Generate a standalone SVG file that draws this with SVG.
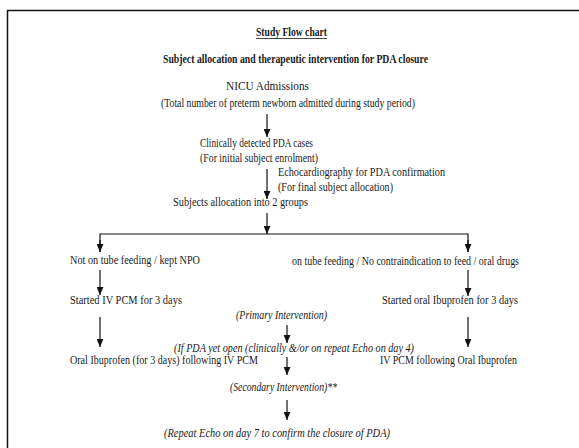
<svg xmlns="http://www.w3.org/2000/svg" width="579" height="448" viewBox="0 0 579 448">
<style>
text{font-family:"Liberation Serif","Times New Roman",serif;font-size:11.5px;fill:#1a1a1a}
.b{font-weight:bold}
.i{font-style:italic}
.ln{stroke:#111;stroke-width:1.2;fill:none}
</style>
<defs>
<marker id="ah" markerUnits="userSpaceOnUse" markerWidth="8" markerHeight="7" refX="7" refY="3" orient="auto" viewBox="0 0 7 6">
<path d="M0,0 L7,3 L0,6 Z" fill="#111"/>
</marker>
</defs>
<rect width="579" height="448" fill="#fff"/>
<path d="M7.5,448 V10.5 H579" stroke="#111" stroke-width="1.5" fill="none"/>
<g id="title">
<text class="b" x="256" y="36" textLength="71" lengthAdjust="spacingAndGlyphs">Study Flow chart</text>
<line x1="256" y1="38.5" x2="327" y2="38.5" stroke="#1a1a1a" stroke-width="0.8"/>
<text class="b" x="163" y="63" textLength="265" lengthAdjust="spacingAndGlyphs">Subject allocation and therapeutic intervention for PDA closure</text>
</g>
<g id="nicu">
<text x="226" y="90" textLength="83" lengthAdjust="spacingAndGlyphs">NICU Admissions</text>
<text x="161" y="107" textLength="254" lengthAdjust="spacingAndGlyphs">(Total number of preterm newborn admitted during study period)</text>
</g>
<g id="clinical">
<text x="200" y="147" textLength="113" lengthAdjust="spacingAndGlyphs">Clinically detected PDA cases</text>
<text x="200" y="162" textLength="118" lengthAdjust="spacingAndGlyphs">(For initial subject enrolment)</text>
</g>
<g id="echo">
<text x="278" y="176" textLength="167" lengthAdjust="spacingAndGlyphs">Echocardiography for PDA confirmation</text>
<text x="278" y="191" textLength="115" lengthAdjust="spacingAndGlyphs">(For final subject allocation)</text>
</g>
<g id="allocation">
<text x="173" y="206" textLength="135" lengthAdjust="spacingAndGlyphs">Subjects allocation into 2 groups</text>
</g>
<g id="npo">
<text x="70" y="264" textLength="130" lengthAdjust="spacingAndGlyphs">Not on tube feeding / kept NPO</text>
</g>
<g id="tube">
<text x="292" y="265" textLength="227" lengthAdjust="spacingAndGlyphs">on tube feeding / No contraindication to feed / oral drugs</text>
</g>
<g id="ivpcm">
<text x="70" y="304" textLength="112" lengthAdjust="spacingAndGlyphs">Started IV PCM for 3 days</text>
</g>
<g id="oralibu">
<text x="382" y="304" textLength="136" lengthAdjust="spacingAndGlyphs">Started oral Ibuprofen for 3 days</text>
</g>
<g id="primary">
<text class="i" x="236" y="319" textLength="91" lengthAdjust="spacingAndGlyphs">(Primary Intervention)</text>
</g>
<g id="ifopen">
<text class="i" x="174" y="352" textLength="240" lengthAdjust="spacingAndGlyphs">(If PDA yet open (clinically &amp;/or on repeat Echo on day 4)</text>
</g>
<g id="leftsecond">
<text x="70" y="364" textLength="188" lengthAdjust="spacingAndGlyphs">Oral Ibuprofen (for 3 days) following IV PCM</text>
</g>
<g id="rightsecond">
<text x="380" y="364" textLength="137" lengthAdjust="spacingAndGlyphs">IV PCM following Oral Ibuprofen</text>
</g>
<g id="secondary">
<text class="i" x="230" y="391" textLength="107" lengthAdjust="spacingAndGlyphs">(Secondary Intervention)**</text>
</g>
<g id="repeat">
<text class="i" x="164" y="437" textLength="226" lengthAdjust="spacingAndGlyphs">(Repeat Echo on day 7 to confirm the closure of PDA)</text>
</g>
<g id="connectors">
<line class="ln" x1="267" y1="114" x2="267" y2="137" marker-end="url(#ah)"/>
<line class="ln" x1="267" y1="169" x2="267" y2="199" marker-end="url(#ah)"/>
<line class="ln" x1="267" y1="213" x2="267" y2="234" marker-end="url(#ah)"/>
<polyline class="ln" points="100,252 100,234 468,234 468,252"/>
<line class="ln" x1="100" y1="240" x2="100" y2="252" marker-end="url(#ah)"/>
<line class="ln" x1="468" y1="240" x2="468" y2="252" marker-end="url(#ah)"/>
<line class="ln" x1="100" y1="270" x2="100" y2="295" marker-end="url(#ah)"/>
<line class="ln" x1="468" y1="270" x2="468" y2="296" marker-end="url(#ah)"/>
<line class="ln" x1="100" y1="317" x2="100" y2="347" marker-end="url(#ah)"/>
<line class="ln" x1="468" y1="317" x2="468" y2="347" marker-end="url(#ah)"/>
<line class="ln" x1="287" y1="325" x2="287" y2="343" marker-end="url(#ah)"/>
<line class="ln" x1="287" y1="357" x2="287" y2="375" marker-end="url(#ah)"/>
<line class="ln" x1="287" y1="400" x2="287" y2="420" marker-end="url(#ah)"/>
</g>
</svg>
